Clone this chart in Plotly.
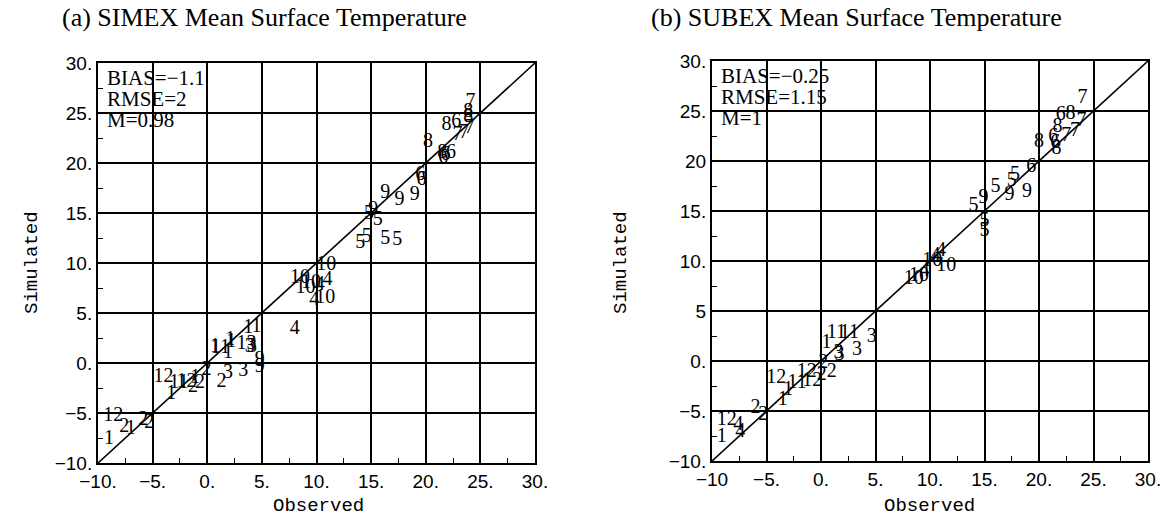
import plotly.graph_objects as go

# ---------------- data ----------------
ticks = [-10, -5, 0, 5, 10, 15, 20, 25, 30]
a_xticktext = ["\u221210.", "\u22125.", "0.", "5.", "10.", "15.", "20.", "25.", "30."]
a_yticktext = ["\u221210.", "\u22125.", "0.", "5.", "10.", "15.", "20.", "25.", "30."]
b_xticktext = ["\u221210", "\u22125.", "0.", "5.", "10.", "15.", "20.", "25.", "30."]
b_yticktext = ["\u221210.", "\u22125.", "0.", "5", "10.", "15.", "20", "25.", "30."]

a_labels = ["1", "12", "2", "1", "2", "2", "12", "1", "11", "12", "1", "2", "2", "2", "2", "3", "3",
            "11", "1", "1", "13", "1", "1", "3", "1", "1", "3", "9", "9", "4",
            "4", "4", "4", "10", "10", "10", "10", "10",
            "5", "5", "5", "5", "5", "5", "9", "9", "9", "9",
            "6", "6", "6", "6", "6", "6", "7", "7", "7", "7", "8", "8", "8", "8", "8"]
a_obs = [-9.0, -8.6, -7.6, -7.0, -5.85, -5.3, -4.0, -3.3, -2.6, -1.9, -1.1, -1.3, -0.67, -0.06, 1.3, 1.9, 3.3,
         1.2, 1.9, 2.2, 3.6, 0.7, 2.1, 4.1, 3.75, 4.5, 3.9, 4.8, 4.8, 8.0,
         9.8, 10.3, 11.0, 8.5, 9.0, 10.9, 10.8, 9.5,
         14.0, 14.6, 16.3, 17.4, 15.6, 14.8, 16.3, 17.6, 19.0, 15.2,
         19.6, 19.5, 21.6, 22.3, 22.8, 21.8, 24.1, 24.0, 22.9, 23.5, 20.2, 21.9, 23.9, 23.9, 21.5]
a_sim = [-7.6, -5.3, -6.4, -6.6, -5.7, -6.0, -1.4, -3.1, -2.0, -1.9, -1.5, -2.4, -2.0, -0.7, -1.9, -1.0, -0.77,
         1.5, 1.0, 2.1, 1.9, 1.6, 2.3, 1.6, 3.5, 3.6, 1.6, 0.3, -0.4, 3.4,
         6.3, 7.8, 8.3, 8.5, 7.5, 9.8, 6.5, 8.0,
         12.0, 12.6, 12.4, 12.3, 14.3, 14.9, 17.0, 16.3, 16.8, 15.3,
         18.3, 18.8, 20.5, 21.0, 24.1, 20.8, 26.1, 23.5, 22.8, 23.0, 22.1, 23.8, 25.1, 24.6, 21.0]

b_labels = ["1", "12", "4", "4", "2", "2", "1", "12", "1", "11", "12", "12", "2", "2", "3", "2",
            "1", "11", "3", "3", "3", "11",
            "4", "4", "4", "10", "10", "10", "10",
            "5", "5", "5", "5", "5", "5", "9", "9", "9",
            "6", "6", "6", "6", "7", "7", "7", "7", "8", "8", "8", "8"]
b_obs = [-9.1, -8.65, -7.6, -7.4, -6.0, -5.3, -3.5, -4.1, -3.0, -2.2, -1.3, -0.8, 0.06, 0.98, 1.6, 0.2,
         0.5, 1.4, 4.65, 3.3, 1.7, 2.6,
         9.5, 10.5, 11.0, 8.5, 9.0, 11.5, 10.2,
         14.0, 15.0, 15.0, 16.0, 17.8, 17.5, 18.9, 17.3, 14.9,
         19.3, 22.0, 21.3, 21.5, 24.0, 23.9, 23.3, 22.5, 20.0, 21.7, 21.6, 22.9]
b_sim = [-7.6, -5.9, -6.4, -7.1, -4.7, -5.4, -3.9, -1.7, -2.9, -2.2, -1.1, -2.0, -1.4, -1.07, 0.77, -0.2,
         1.8, 2.8, 2.4, 1.1, 0.6, 2.8,
         9.0, 10.5, 11.0, 8.2, 8.5, 9.5, 10.0,
         15.5, 14.0, 13.0, 17.4, 18.6, 18.0, 16.9, 16.6, 16.3,
         19.4, 24.6, 22.4, 21.8, 26.3, 24.0, 23.0, 22.5, 21.9, 23.4, 21.2, 24.7]

a_stats = ["BIAS=\u22121.1", "RMSE=2", "M=0.98"]
b_stats = ["BIAS=\u22120.25", "RMSE=1.15", "M=1"]
titles = ["(a) SIMEX Mean Surface Temperature", "(b) SUBEX Mean Surface Temperature"]
diag = [-10, 30]

# ---------------- figure ----------------
W, H = 1166, 519
fig = go.Figure()

def px_x(p):
    return p / W

def px_y(p):
    return 1 - p / H

panels = [
    dict(xd=[px_x(98), px_x(535)], yd=[px_y(463), px_y(63)], xt=a_xticktext, yt=a_yticktext,
         lab=a_labels, ox=a_obs, sim=a_sim, stats=a_stats, ax="x", ay="y"),
    dict(xd=[px_x(712), px_x(1148)], yd=[px_y(461), px_y(61)], xt=b_xticktext, yt=b_yticktext,
         lab=b_labels, ox=b_obs, sim=b_sim, stats=b_stats, ax="x2", ay="y2"),
]

serif = "Liberation Serif"
sans = "Liberation Sans"
mono = "Liberation Mono"

for i, p in enumerate(panels):
    sfx = "" if i == 0 else "2"
    axis_common = dict(
        range=[-10, 30], tickvals=ticks, showgrid=True, gridcolor="black", gridwidth=1.6,
        zeroline=False, showline=True, linecolor="black", linewidth=2, mirror=True,
        ticks="", tickfont=dict(family=sans, size=19, color="black"), automargin=False,
        minor=dict(tickvals=[-7.5, -2.5, 2.5, 7.5, 12.5, 17.5, 22.5, 27.5], ticks="inside",
                   ticklen=5, tickcolor="black", tickwidth=1.2, showgrid=False),
        fixedrange=True,
    )
    fig.update_layout(**{
        "xaxis" + sfx: dict(axis_common, domain=p["xd"], ticktext=p["xt"], anchor="y" + sfx),
        "yaxis" + sfx: dict(axis_common, domain=p["yd"], ticktext=p["yt"], anchor="x" + sfx),
    })
    fig.add_trace(go.Scatter(x=diag, y=diag, mode="lines", line=dict(color="black", width=1.6),
                             xaxis=p["ax"], yaxis=p["ay"], hoverinfo="skip"))
    fig.add_trace(go.Scatter(x=p["ox"], y=p["sim"], mode="text", text=p["lab"],
                             textfont=dict(family=serif, size=20, color="black"),
                             xaxis=p["ax"], yaxis=p["ay"]))
    for k, s in enumerate(p["stats"]):
        fig.add_annotation(x=-9.4, y=28.5 - 2.1 * k, xref=p["ax"], yref=p["ay"], text=s,
                           showarrow=False, xanchor="left", yanchor="middle",
                           font=dict(family=serif, size=21, color="black"))

# titles
fig.add_annotation(x=px_x(60), y=px_y(18), xref="paper", yref="paper", text=titles[0], showarrow=False,
                   xanchor="left", yanchor="middle", font=dict(family=serif, size=26, color="black"))
fig.add_annotation(x=px_x(649), y=px_y(18), xref="paper", yref="paper", text=titles[1], showarrow=False,
                   xanchor="left", yanchor="middle", font=dict(family=serif, size=26, color="black"))
# axis titles
for cx in [318, 929]:
    fig.add_annotation(x=px_x(cx), y=px_y(506), xref="paper", yref="paper", text="Observed",
                       showarrow=False, xanchor="center", yanchor="middle",
                       font=dict(family=mono, size=19, color="black"))
for cx in [32, 621]:
    fig.add_annotation(x=px_x(cx), y=px_y(263), xref="paper", yref="paper", text="Simulated",
                       showarrow=False, xanchor="center", yanchor="middle", textangle=-90,
                       font=dict(family=mono, size=19, color="black"))

fig.update_layout(width=W, height=H, margin=dict(l=0, r=0, t=0, b=0, autoexpand=False), showlegend=False,
                  plot_bgcolor="white", paper_bgcolor="white")
fig.write_html("out.html")
